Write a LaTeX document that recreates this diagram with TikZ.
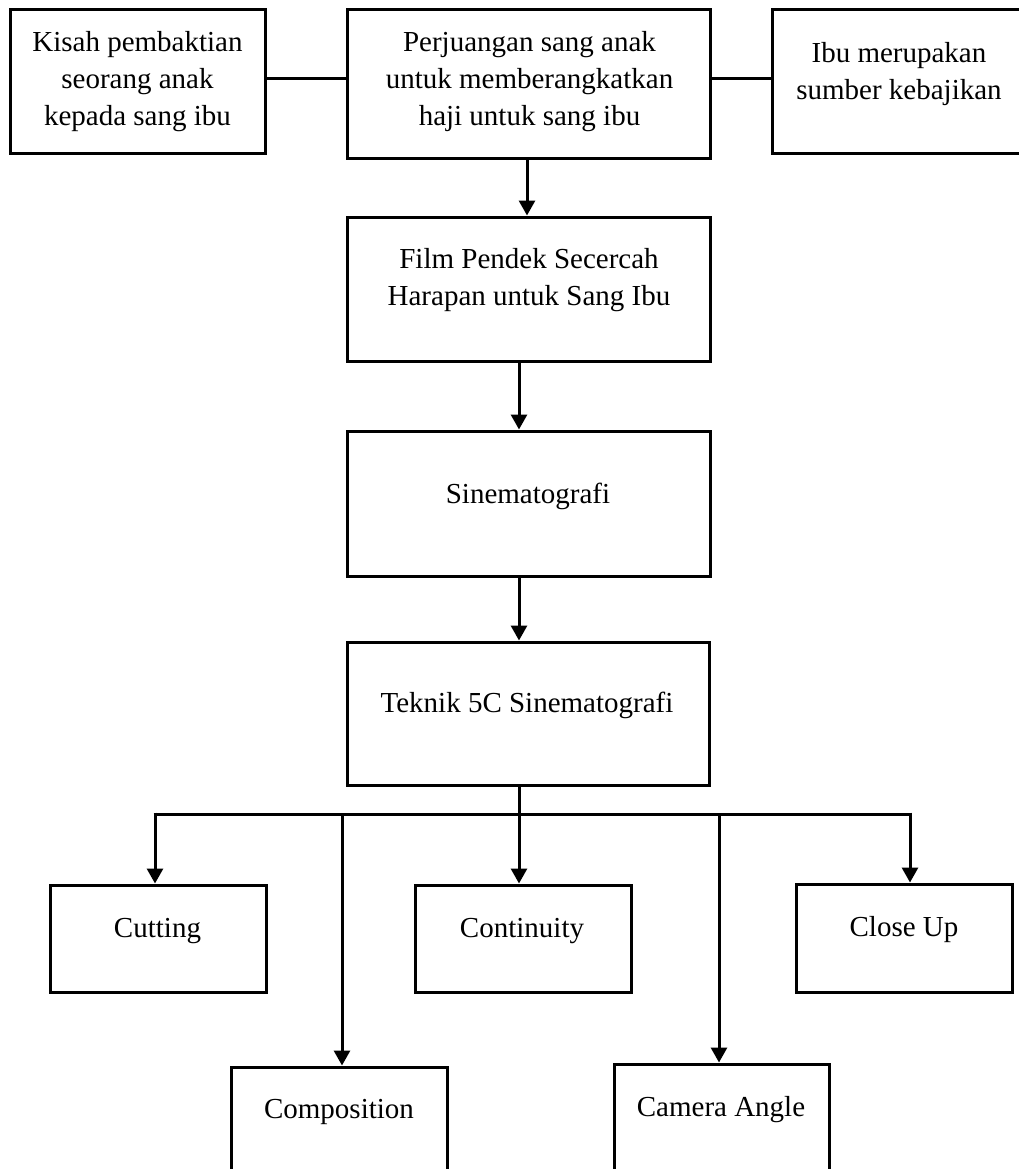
\documentclass[tikz,border=0pt]{standalone}
\usepackage{fontspec}
\setmainfont{Liberation Serif}
\usetikzlibrary{arrows.meta}
\begin{document}
\begin{tikzpicture}[x=1pt,y=-1pt,
  box/.style={draw=black, line width=3pt, rectangle, inner sep=0pt},
  txt/.style={align=center, inner sep=0pt, font=\fontsize{29}{37}\selectfont},
  link/.style={line width=3pt},
  arr/.style={line width=3pt, -{Triangle[length=15pt,width=16pt]}}]
\useasboundingbox (0,0) rectangle (1019,1169);
\begin{scope}
\clip (0,0) rectangle (1019,1169);
% top row
\node[box, minimum width=255pt, minimum height=144pt] (kisah) at (137.5,82) {};
\node[txt] (kisaht) at (137.5,82) {Kisah pembaktian\\seorang anak\\kepada sang ibu};
\node[box, minimum width=363pt, minimum height=149pt] (perj) at (528.5,84.5) {};
\node[txt] (perjt) at (529.5,82) {Perjuangan sang anak\\untuk memberangkatkan\\haji untuk sang ibu};
\node[box, minimum width=252pt, minimum height=144pt] (ibu) at (898,82) {};
\node[txt] (ibut) at (899,74) {Ibu merupakan\\sumber kebajikan};
% chain
\node[box, minimum width=363pt, minimum height=144pt] (film) at (528.5,289) {};
\node[txt] (filmt) at (529,280.5) {Film Pendek Secercah\\Harapan untuk Sang Ibu};
\node[box, minimum width=363pt, minimum height=145pt] (sin) at (528.5,503.5) {};
\node[txt] (sint) at (528,496) {Sinematografi};
\node[box, minimum width=362pt, minimum height=143pt] (tek) at (528,713.5) {};
\node[txt] (tekt) at (527,705) {Teknik 5C Sinematografi};
% children
\node[box, minimum width=216pt, minimum height=107pt] (cut) at (158,938.5) {};
\node[txt] (cutt) at (157.5,931) {Cutting};
\node[box, minimum width=216pt, minimum height=107pt] (cont) at (523,938.5) {};
\node[txt] (contt) at (522,931) {Continuity};
\node[box, minimum width=216pt, minimum height=108pt] (close) at (904,938) {};
\node[txt] (closet) at (904,930) {Close Up};
\node[box, minimum width=216pt, minimum height=110pt] (comp) at (339,1122) {};
\node[txt] (compt) at (339,1112) {Composition};
\node[box, minimum width=215pt, minimum height=110pt] (cam) at (721.5,1119) {};
\node[txt] (camt) at (721,1110) {Camera Angle};
% side links
\coordinate (ylink) at (0,79);
\draw[link] (kisah.east |- ylink) -- (perj.west |- ylink);
\draw[link] (perj.east |- ylink) -- (ibu.west |- ylink);
% vertical chain
\draw[arr] ([xshift=-1.5pt]perj.south) -- ([xshift=-1.5pt]film.north);
\draw[arr] ([xshift=-9.5pt]film.south) -- ([xshift=-9.5pt]film.south |- sin.north);
\draw[arr] ([xshift=-9.5pt]sin.south) -- ([xshift=-9.5pt]sin.south |- tek.north);
% bus
\coordinate (bus) at (519,814);
\coordinate (jcut) at (155,814);
\coordinate (jcomp) at (342,814);
\coordinate (jcam) at (719,814);
\coordinate (jclose) at (910,814);
\draw[link] (tek.south -| bus) -- (bus);
\draw[link] ([xshift=-1.5pt]jcut) -- ([xshift=1.5pt]jclose);
\draw[arr] ([yshift=1.5pt]jcut) -- (jcut |- cut.north);
\draw[arr] (jcomp) -- (jcomp |- comp.north);
\draw[arr] (bus) -- (bus |- cont.north);
\draw[arr] (jcam) -- (jcam |- cam.north);
\draw[arr] ([yshift=1.5pt]jclose) -- (jclose |- close.north);
\end{scope}
\end{tikzpicture}
\end{document}
